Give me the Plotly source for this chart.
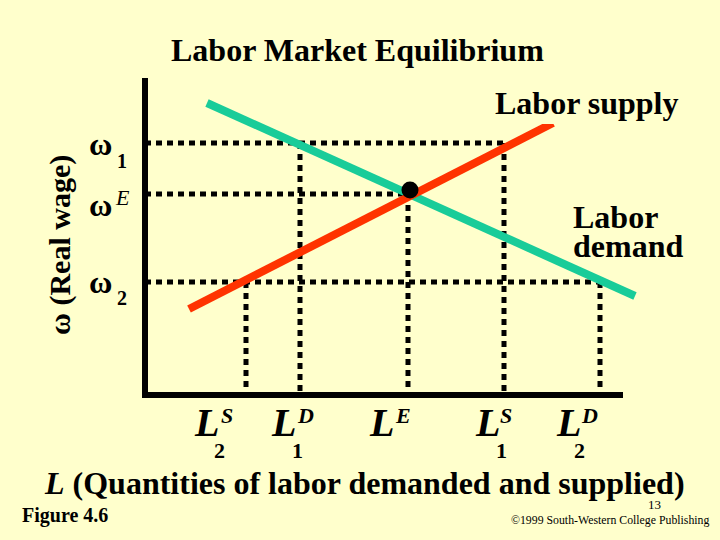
import plotly.graph_objects as go

# ---- data (arbitrary quantity / real-wage units) ----
quantity_marks = {"LS2": 20.2, "LD1": 31.0, "LE": 52.6, "LS1": 71.8, "LD2": 91.0}
wage_marks = {"w1": 50.4, "wE": 40.2, "w2": 22.6}

supply_L = [8.8, 81.6]
supply_w = [17.2, 54.4]
demand_L = [12.4, 98.0]
demand_w = [58.4, 19.8]
eq_L = [53.0]
eq_w = [41.0]

axis_x_L = [-0.6, 95.6]
axis_x_w = [0, 0]
axis_y_L = [0, 0]
axis_y_w = [-0.6, 63.4]

BG = "#FFFFCC"
RED = "#FF3300"
TEAL = "#19CC99"
FONT = "Liberation Serif"
XR = [-29, 115]
YR = [-29, 79]

fig = go.Figure()

dot_style = dict(color="black", width=5, dash="6px,5px")

# horizontal dotted guides
for wk, lk in [("w1", "LS1"), ("wE", "LE"), ("w2", "LD2")]:
    fig.add_trace(go.Scatter(x=[0, quantity_marks[lk]], y=[wage_marks[wk]] * 2,
                             mode="lines", line=dot_style, hoverinfo="skip"))
# vertical dotted guides
for lk, wk in [("LS2", "w2"), ("LD1", "w1"), ("LE", "wE"), ("LS1", "w1"), ("LD2", "w2")]:
    fig.add_trace(go.Scatter(x=[quantity_marks[lk]] * 2, y=[wage_marks[wk], 0],
                             mode="lines", line=dot_style, hoverinfo="skip"))

# axes
fig.add_trace(go.Scatter(x=axis_x_L, y=axis_x_w, mode="lines",
                         line=dict(color="black", width=6), hoverinfo="skip"))
fig.add_trace(go.Scatter(x=axis_y_L, y=axis_y_w, mode="lines",
                         line=dict(color="black", width=6), hoverinfo="skip"))

# demand curve
fig.add_trace(go.Scatter(x=demand_L, y=demand_w, mode="lines",
                         line=dict(color=TEAL, width=8), hoverinfo="skip"))
# supply curve (clipped at top, second subplot with identical scale)
fig.add_trace(go.Scatter(x=supply_L, y=supply_w, mode="lines", xaxis="x2", yaxis="y2",
                         line=dict(color=RED, width=8), hoverinfo="skip"))
# equilibrium
fig.add_trace(go.Scatter(x=eq_L, y=eq_w, mode="markers", xaxis="x2", yaxis="y2",
                         marker=dict(color="black", size=17), hoverinfo="skip"))

ann = []
def A(x, y, text, size, xanchor="center", yanchor="middle", angle=0):
    ann.append(dict(x=x, y=y, xref="x", yref="y", text=text, showarrow=False,
                    xanchor=xanchor, yanchor=yanchor, textangle=angle,
                    font=dict(family=FONT, size=size, color="black")))

A(42.4, 69, "<b>Labor Market Equilibrium</b>", 32)
A(88.4, 58.4, "<b>Labor supply</b>", 32)
A(85.2, 35.6, "<b>Labor</b>", 32, xanchor="left")
A(85.2, 29.8, "<b>demand</b>", 32, xanchor="left")

# wage labels
A(-9, 50.2, "<b>ω</b>", 32)
A(-4.6, 46.8, "<b>1</b>", 20)
A(-9, 38.0, "<b>ω</b>", 32)
A(-4.6, 39.6, "<i>E</i>", 22)
A(-9, 22.6, "<b>ω</b>", 32)
A(-4.6, 19.4, "<b>2</b>", 20)

# quantity labels
for Lx, sx, sub_x, sup, sub in [(12.2, 16.4, 14.8, "S", "2"), (27.6, 32.0, 30.5, "D", "1"),
                                  (47.3, 51.6, None, "E", None), (68.4, 72.2, 71.2, "S", "1"),
                                  (84.6, 88.8, 86.8, "D", "2")]:
    A(Lx, -5.4, "<b><i>L</i></b>", 40)
    A(sx, -4.0, "<b><i>%s</i></b>" % sup, 22)
    if sub:
        A(sub_x, -11.0, "<b>%s</b>" % sub, 22)

A(43.8, -17.6, "<b><i>L</i> (Quantities of labor demanded and supplied)</b>", 32)
A(-25.0, -24.0, "<b>Figure 4.6</b>", 20, xanchor="left")
A(101.8, -21.8, "13", 13)
A(93.0, -25.0, "©1999 South-Western College Publishing", 11.8)
A(-17.0, 30.0, "<b>ω (Real wage)</b>", 30, angle=-90)

fig.update_layout(
    width=720, height=540, margin=dict(l=0, r=0, t=0, b=0),
    paper_bgcolor=BG, plot_bgcolor="rgba(0,0,0,0)", showlegend=False,
    xaxis=dict(range=XR, visible=False, domain=[0, 1]),
    yaxis=dict(range=YR, visible=False, domain=[0, 1]),
    xaxis2=dict(range=XR, visible=False, domain=[0, 1], anchor="y2"),
    yaxis2=dict(range=[-29, 54.2], visible=False, domain=[0, 416 / 540], anchor="x2"),
    annotations=ann,
)

fig.write_html("out.html", config={"displayModeBar": False},
               post_script="document.body.style.margin='0';document.body.style.background='%s';" % BG)
